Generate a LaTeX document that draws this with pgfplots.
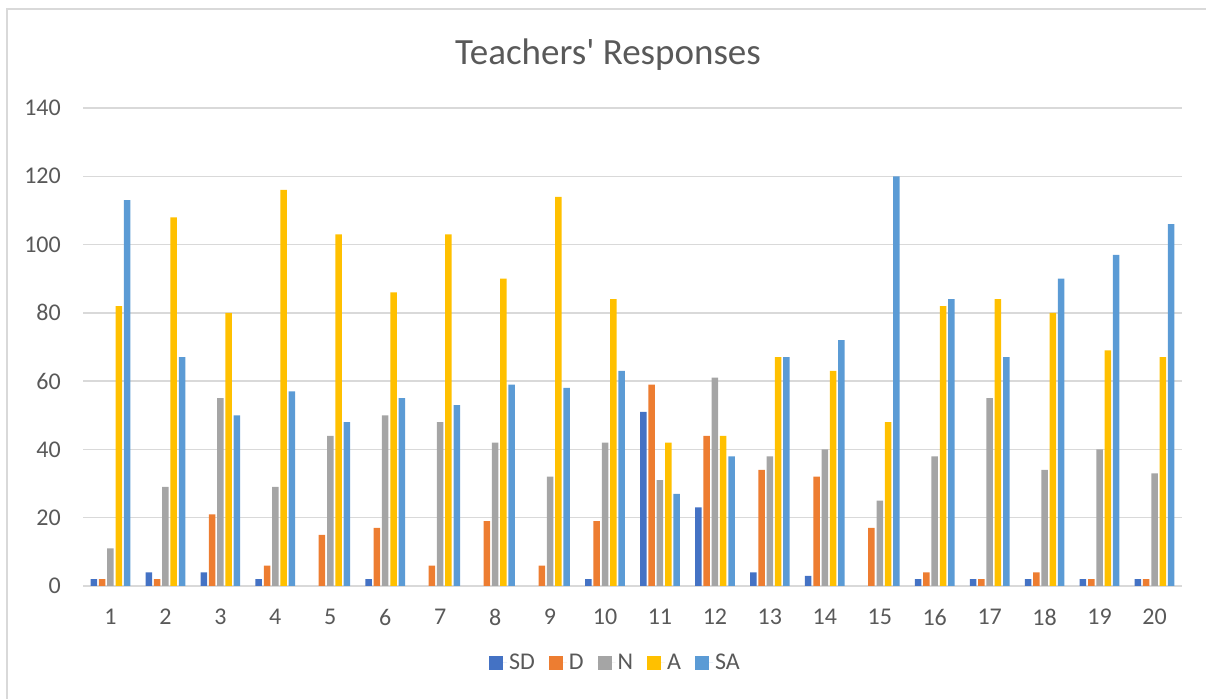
\documentclass[border=0pt]{standalone}
\usepackage{fontspec}
\setmainfont{Carlito}
\usepackage{pgfplots}
\usepackage{pgfplotstable}
\pgfplotsset{compat=1.18}
\definecolor{cSD}{HTML}{4472C4}
\definecolor{cD}{HTML}{ED7D31}
\definecolor{cN}{HTML}{A5A5A5}
\definecolor{cA}{HTML}{FFC000}
\definecolor{cSA}{HTML}{5B9BD5}
\definecolor{txt}{HTML}{595959}
\definecolor{gridc}{HTML}{D9D9D9}
\pgfplotstableread{
q SD D N A SA
1 2 2 11 82 113
2 4 2 29 108 67
3 4 21 55 80 50
4 2 6 29 116 57
5 0 15 44 103 48
6 2 17 50 86 55
7 0 6 48 103 53
8 0 19 42 90 59
9 0 6 32 114 58
10 2 19 42 84 63
11 51 59 31 42 27
12 23 44 61 44 38
13 4 34 38 67 67
14 3 32 40 63 72
15 0 17 25 48 120
16 2 4 38 82 84
17 2 2 55 84 67
18 2 4 34 80 90
19 2 2 40 69 97
20 2 2 33 67 106
}\data
\begin{document}
\begin{tikzpicture}
\path[use as bounding box] (0bp,0bp) rectangle (1206bp,699bp);
\draw[color=gridc, line width=1.3bp] (7bp,-5bp) -- (7bp,690bp) -- (1215bp,690bp);
\node[text=txt, font=\fontsize{37bp}{44bp}\selectfont] at (608bp,644bp) {Teachers\textquotesingle\ Responses};
\begin{axis}[
  at={(83bp,113bp)}, anchor=south west,
  scale only axis, width=1099bp, height=478bp,
  ybar=1.8bp, bar width=6.5bp,
  xmin=0.5, xmax=20.5, ymin=0, ymax=140,
  ytick={0,20,...,140}, xtick={1,...,20},
  axis line style={draw=none},
  major tick length=0pt,
  ymajorgrids, grid style={color=gridc, line width=1.3bp},
  tick label style={text=txt, font=\fontsize{24bp}{28bp}\selectfont},
  /pgf/number format/assume math mode=true,
  yticklabel style={inner sep=0pt, anchor=east, xshift=-22bp},
  xticklabel style={inner sep=0pt, anchor=north, yshift=-23bp},
  legend image code/.code={\path (0bp,0bp) -- (18bp,0bp);\fill[#1] (0bp,-7bp) rectangle (14bp,7bp);},
  legend columns=-1,
  legend style={draw=none, fill=none, at={(0.4845,-0.161)}, anchor=center,
    font=\fontsize{24bp}{28bp}\selectfont, text=txt,
    /tikz/every even column/.append style={column sep=12bp}},
]
\addplot[fill=cSD, draw=none] table[x=q,y=SD]{\data};
\addplot[fill=cD, draw=none] table[x=q,y=D]{\data};
\addplot[fill=cN, draw=none] table[x=q,y=N]{\data};
\addplot[fill=cA, draw=none] table[x=q,y=A]{\data};
\addplot[fill=cSA, draw=none] table[x=q,y=SA]{\data};
\legend{SD,D,N,A,SA}
\end{axis}
\end{tikzpicture}
\end{document}
